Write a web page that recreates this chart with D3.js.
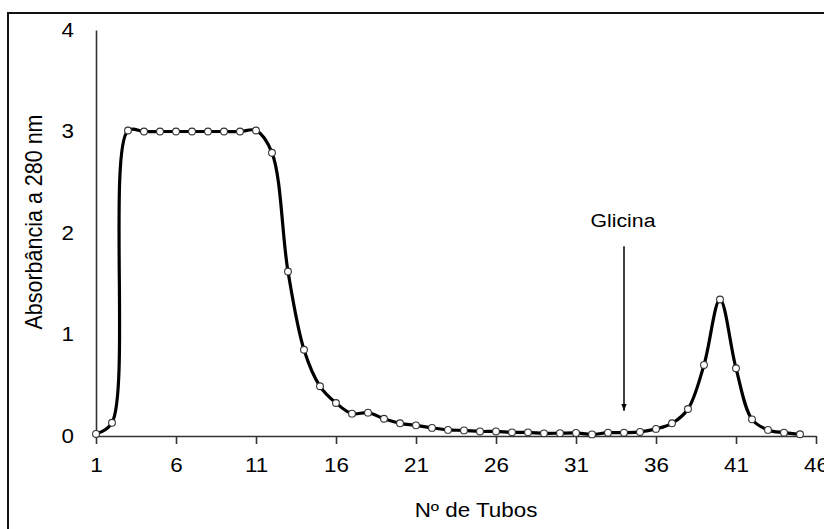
<!DOCTYPE html>
<html>
<head>
<meta charset="utf-8">
<script src="https://cdn.jsdelivr.net/npm/d3@7"></script>
<style>
  html, body { margin: 0; padding: 0; background: #fff; }
  svg { display: block; }
  text { font-family: "Liberation Sans", Arial, sans-serif; fill: #000; }
</style>
</head>
<body>
<svg id="chart" width="824" height="529"></svg>
<script>
// Absorbance at 280 nm for each collected tube
const tubes = d3.range(1, 46);
const absorbance = [
  0.02, 0.13, 3.01, 3.0, 3.0, 3.0, 3.0, 3.0, 3.0, 3.0,
  3.01, 2.79, 1.62, 0.85, 0.49, 0.325, 0.22, 0.23, 0.17, 0.125,
  0.105, 0.08, 0.06, 0.055, 0.045, 0.045, 0.036, 0.036, 0.026, 0.028,
  0.03, 0.016, 0.033, 0.033, 0.04, 0.07, 0.125, 0.266, 0.70, 1.345,
  0.667, 0.164, 0.06, 0.033, 0.017
];
const xTicks = [1, 6, 11, 16, 21, 26, 31, 36, 41, 46];
const yTicks = [0, 1, 2, 3, 4];
const xTitle = "Nº de Tubos";
const yTitle = "Absorbância a 280 nm";
const markerLabel = "Glicina";
const markerTube = 34;
const markerFrom = 1.87;
const markerTo = 0.25;

const svg = d3.select("#chart");
const stretch = 1.12;

// outer frame (open on right and bottom)
svg.append("rect")
  .attr("x", 8).attr("y", 13)
  .attr("width", 840).attr("height", 540)
  .attr("fill", "none").attr("stroke", "#111").attr("stroke-width", 2);

const x = d3.scaleLinear().domain([1, 46]).range([96, 816]);
const y = d3.scaleLinear().domain([0, 4]).range([436, 30]);

// x axis
const gx = svg.append("g").attr("transform", `translate(0,${y(0)})`)
  .call(d3.axisBottom(x).tickValues(xTicks).tickSize(8).tickSizeOuter(0).tickPadding(14));
gx.select(".domain").attr("stroke", "#333").attr("stroke-width", 1.6);
gx.selectAll(".tick line").attr("stroke", "#333").attr("stroke-width", 1.6);
gx.selectAll(".tick text")
  .attr("font-size", 20).attr("font-family", "Liberation Sans, Arial, sans-serif")
  .attr("fill", "#000")
  .attr("transform", `scale(${stretch},1)`);

// y axis
const gy = svg.append("g").attr("transform", `translate(${x(1)},0)`)
  .call(d3.axisLeft(y).tickValues(yTicks).tickFormat(d3.format("d"))
    .tickSize(0).tickSizeOuter(0).tickPadding(0));
gy.select(".domain").attr("stroke", "#333").attr("stroke-width", 1.6);
gy.selectAll(".tick text")
  .attr("font-size", 20).attr("font-family", "Liberation Sans, Arial, sans-serif")
  .attr("fill", "#000")
  .attr("x", -22 / stretch)
  .attr("transform", `scale(${stretch},1)`);

// axis titles
svg.append("text")
  .attr("transform", `translate(476,517) scale(${stretch},1)`)
  .attr("text-anchor", "middle").attr("font-size", 20)
  .text(xTitle);
svg.append("text")
  .attr("transform", `translate(42,222) rotate(-90) scale(1,${stretch})`)
  .attr("text-anchor", "middle").attr("font-size", 21.5)
  .text(yTitle);

// elution curve
const line = d3.line()
  .x((d, i) => x(tubes[i]))
  .y(d => y(d))
  .curve(d3.curveCatmullRom.alpha(0.5));
svg.append("path")
  .datum(absorbance)
  .attr("d", line)
  .attr("fill", "none").attr("stroke", "#000").attr("stroke-width", 3.2)
  .attr("stroke-linejoin", "round");

svg.append("g").selectAll("circle")
  .data(absorbance)
  .join("circle")
  .attr("cx", (d, i) => x(tubes[i]))
  .attr("cy", d => y(d))
  .attr("r", 3.4)
  .attr("fill", "#fff").attr("stroke", "#333").attr("stroke-width", 1.1);

// glycine elution marker
svg.append("defs").append("marker")
  .attr("id", "arrowhead")
  .attr("viewBox", "0 0 10 10")
  .attr("refX", 10).attr("refY", 5)
  .attr("markerWidth", 7).attr("markerHeight", 7)
  .attr("markerUnits", "userSpaceOnUse")
  .attr("orient", "auto")
  .append("path").attr("d", "M0,1 L10,5 L0,9 Z").attr("fill", "#000");

svg.append("line")
  .attr("x1", x(markerTube)).attr("x2", x(markerTube))
  .attr("y1", y(markerFrom)).attr("y2", y(markerTo))
  .attr("stroke", "#000").attr("stroke-width", 1.5)
  .attr("marker-end", "url(#arrowhead)");

svg.append("text")
  .attr("transform", `translate(${x(markerTube) - 1},227) scale(${stretch},1)`)
  .attr("text-anchor", "middle").attr("font-size", 19)
  .text(markerLabel);
</script>
</body>
</html>
